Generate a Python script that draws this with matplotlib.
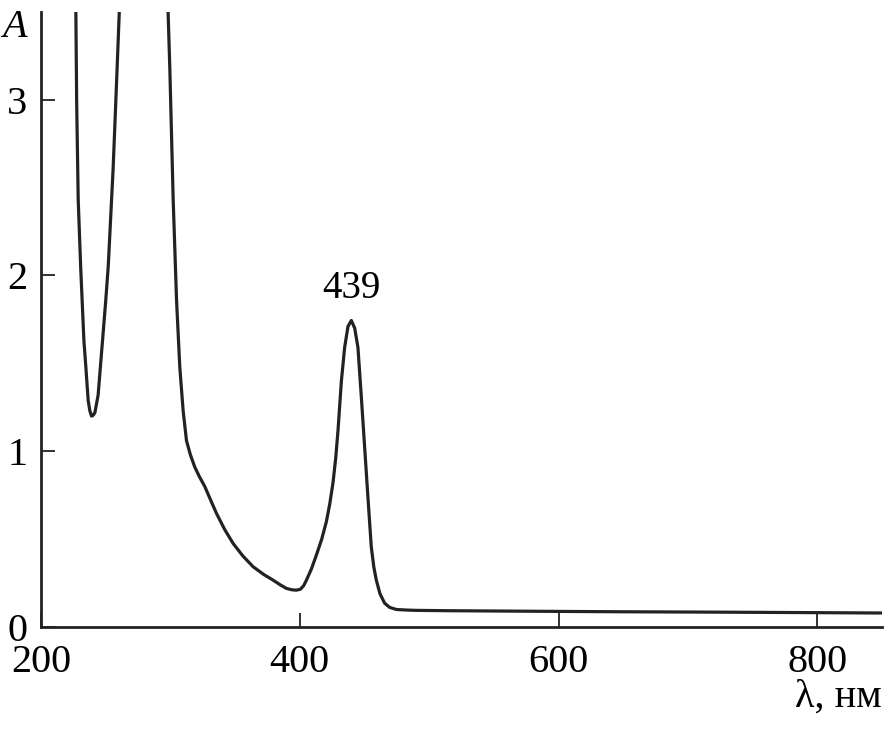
import numpy as np
import matplotlib.pyplot as plt

plt.rcParams['font.family'] = ['Liberation Serif', 'DejaVu Serif']

# absorption spectrum
wl = [226.5, 227, 227.6, 228.8, 230.7, 233.2, 234.7, 236.5, 237.8, 239.1,
      240.4, 241.7, 244.2, 247.6, 250, 252, 255.8, 258.4, 260.5, 261.5,
      296.5, 298.3, 299.6, 302.2, 304.8, 307.3, 309.9, 312.5, 315.5, 318.9,
      322.5, 326.6, 331, 335.7, 342, 348.5, 356, 364, 372, 379.4, 385, 389.7,
      394, 397.5, 400.5, 403, 405.2, 409, 412.9, 417, 420.6, 423.2, 425.7, 427.8,
      429.6, 432.2, 434.7, 437.3, 439.9, 442.5, 445, 447.6, 450.2, 452.7, 455.3,
      457.3, 459.2, 462, 465.6, 469.5, 474.7, 482, 490, 515.8, 580, 650, 720, 800, 850]
absorb = [3.8, 3.49, 2.99, 2.43, 2.05, 1.63, 1.48, 1.29, 1.23, 1.20,
          1.205, 1.22, 1.32, 1.63, 1.85, 2.05, 2.61, 3.09, 3.49, 3.8,
          3.8, 3.49, 3.18, 2.43, 1.86, 1.48, 1.23, 1.06, 0.98, 0.91,
          0.855, 0.80, 0.725, 0.646, 0.555, 0.476, 0.405, 0.343, 0.30, 0.267, 0.24, 0.22,
          0.212, 0.21, 0.215, 0.235, 0.267, 0.33, 0.41, 0.50, 0.60, 0.70, 0.82, 0.96,
          1.12, 1.40, 1.59, 1.71, 1.744, 1.70, 1.59, 1.31, 1.02, 0.74, 0.456,
          0.34, 0.267, 0.19, 0.136, 0.112, 0.10, 0.097, 0.095, 0.093, 0.09, 0.087, 0.085, 0.082, 0.08]

x_ticks = [200, 400, 600, 800]
y_ticks = [0, 1, 2, 3]
peak_wl, peak_label = 440, '439'

fig = plt.figure(figsize=(8.9, 7.36), dpi=100)
ax = fig.add_axes([0.046, 0.148, 0.945, 0.836])

ax.plot(wl, absorb, color='#222222', lw=2.3, solid_joinstyle='round')
ax.text(peak_wl, 1.82, peak_label, ha='center', va='bottom', fontsize=28)

ax.set_xlim(200, 850)
ax.set_ylim(0, 3.5)
ax.set_xticks(x_ticks)
ax.set_yticks(y_ticks)
ax.tick_params(direction='in', length=10, width=1.3, labelsize=29, color='#222222')
ax.tick_params(axis='x', pad=12)
ax.tick_params(axis='y', pad=10)
for s in ['top', 'right']:
    ax.spines[s].set_visible(False)
for s in ['left', 'bottom']:
    ax.spines[s].set_linewidth(2)
    ax.spines[s].set_color('#222222')

fig.text(0.016, 0.962, 'A', fontsize=29, style='italic', ha='center', va='center')
fig.text(0.991, 0.053, 'λ, нм', fontsize=29, ha='right', va='center')

fig.savefig('out.png', dpi=100)
